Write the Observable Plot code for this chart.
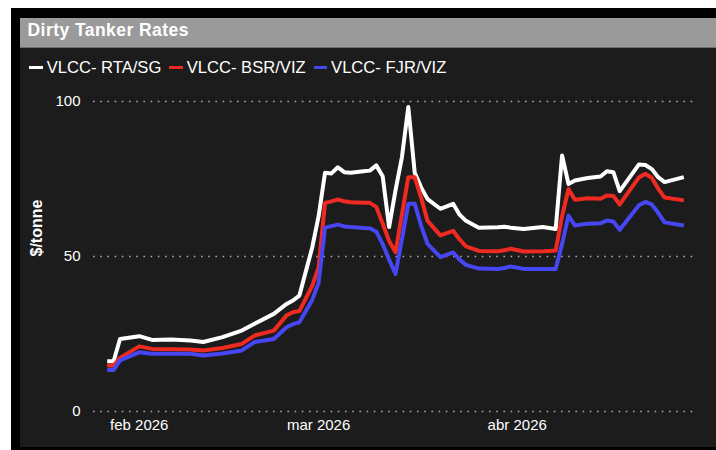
<!DOCTYPE html>
<html>
<head>
<meta charset="utf-8">
<script src="https://cdn.jsdelivr.net/npm/d3@7"></script>
<script src="https://cdn.jsdelivr.net/npm/@observablehq/plot@0.6"></script>
<style>
html,body{margin:0;padding:0;background:#fff;width:716px;height:450px;overflow:hidden;font-family:"Liberation Sans",Arial,sans-serif;}
#frame{position:absolute;left:11px;top:8px;width:705px;height:442px;background:#000;}
#panel{position:absolute;left:20px;top:18px;width:696px;height:429px;background:#1c1c1c;overflow:hidden;}
#titlebar{position:absolute;left:0;top:0;width:696px;height:29px;background:#9a9a9a;border-bottom:1px solid #6e6e6e;}
#title{position:absolute;left:7.5px;top:1.5px;line-height:20px;color:#fff;font-weight:bold;font-size:17.5px;letter-spacing:0.45px;white-space:nowrap;}
#legend{position:absolute;left:9.3px;top:40px;line-height:20px;color:#fff;font-size:16.6px;white-space:nowrap;}
.item{display:inline-block;margin-right:8px;}
.sw{display:inline-block;width:13.4px;height:3px;vertical-align:middle;margin-right:4px;position:relative;top:-1px;}
#chart{position:absolute;left:0;top:67px;}
</style>
</head>
<body>
<div id="frame"></div>
<div id="panel">
  <div id="titlebar"><div id="title">Dirty Tanker Rates</div></div>
  <div id="legend"></div>
  <div id="chart"></div>
</div>
<script>
// Series names and colours
const seriesNames = ["VLCC- RTA/SG", "VLCC- BSR/VIZ", "VLCC- FJR/VIZ"];
const seriesColors = ["#ffffff", "#ef2a22", "#4646f2"];

// Dates of observations
const dates = [
  "2026-01-27","2026-01-28","2026-01-29","2026-02-01","2026-02-03","2026-02-06","2026-02-09","2026-02-11",
  "2026-02-14","2026-02-17","2026-02-19","2026-02-22","2026-02-24","2026-02-25","2026-02-26","2026-02-28",
  "2026-03-01","2026-03-02","2026-03-03","2026-03-04","2026-03-05","2026-03-06","2026-03-08","2026-03-09",
  "2026-03-10","2026-03-11","2026-03-12","2026-03-13","2026-03-14","2026-03-15","2026-03-16","2026-03-17",
  "2026-03-18","2026-03-20","2026-03-22","2026-03-23","2026-03-24","2026-03-26","2026-03-29","2026-03-30",
  "2026-03-31","2026-04-02","2026-04-05","2026-04-06","2026-04-07","2026-04-08","2026-04-09","2026-04-10",
  "2026-04-12","2026-04-14","2026-04-15","2026-04-16","2026-04-17","2026-04-20","2026-04-21","2026-04-22",
  "2026-04-23","2026-04-24","2026-04-27"
];

// VLCC- RTA/SG ($/tonne)
const rtaSg = [
  16.2,16.2,23.4,24.3,23.1,23.2,22.9,22.4,
  24.0,26.1,28.3,31.5,34.7,35.8,37.4,52.9,
  63.0,77.0,76.8,78.8,77.2,77.0,77.5,77.7,
  79.4,75.9,59.5,71.3,82.0,98.2,77.0,72.3,
  68.5,65.4,67.0,63.5,61.5,59.3,59.4,59.6,
  59.3,58.9,59.5,59.2,58.9,82.6,73.4,74.5,
  75.3,75.8,77.5,77.2,71.1,79.7,79.5,78.2,
  75.6,74.0,75.6
];

// VLCC- BSR/VIZ ($/tonne)
const bsrViz = [
  14.8,14.8,17.3,21.0,20.2,20.1,20.0,19.7,
  20.5,21.8,24.5,26.1,31.0,32.0,32.4,40.5,
  46.5,67.3,67.8,68.4,67.8,67.5,67.3,67.3,
  66.0,60.6,55.0,51.4,63.5,75.6,75.6,69.0,
  61.5,56.8,58.3,55.5,53.3,51.8,51.7,52.0,
  52.5,51.6,51.7,51.8,51.9,63.0,71.8,68.3,
  68.8,68.6,69.7,69.5,66.8,75.5,76.7,75.4,
  71.9,69.0,68.1
];

// VLCC- FJR/VIZ ($/tonne)
const fjrViz = [
  13.4,13.4,16.5,19.1,18.6,18.6,18.6,18.1,
  18.7,19.7,22.4,23.4,27.2,28.2,28.8,36.0,
  41.5,59.3,59.8,60.3,59.7,59.5,59.2,59.1,
  58.0,54.0,49.0,44.4,55.5,67.0,67.0,59.9,
  54.1,49.8,51.3,49.0,47.3,46.1,46.0,46.3,
  46.8,46.0,46.0,46.0,46.0,54.0,63.2,60.0,
  60.6,60.7,61.6,61.3,58.6,66.5,67.6,66.8,
  64.1,61.0,60.0
];

// Axis ticks
const yTicks = [0, 50, 100];
const monthTickDates = ["2026-02-01", "2026-03-01", "2026-04-01"];
const monthTickLabels = ["feb 2026", "mar 2026", "abr 2026"];
const yLabel = "$/tonne";

// Build table
const seriesValues = [rtaSg, bsrViz, fjrViz];
const parsed = dates.map(d => new Date(d + "T00:00:00Z"));
const table = [];
seriesNames.forEach((name, s) => {
  seriesValues[s].forEach((v, i) => table.push({date: parsed[i], value: v, series: name}));
});
const monthTicks = monthTickDates.map(d => new Date(d + "T00:00:00Z"));

// Legend
const legend = document.getElementById("legend");
seriesNames.forEach((name, i) => {
  const it = document.createElement("span");
  it.className = "item";
  const sw = document.createElement("span");
  sw.className = "sw";
  sw.style.background = seriesColors[i];
  it.appendChild(sw);
  it.appendChild(document.createTextNode(name));
  legend.appendChild(it);
});

const chart = Plot.plot({
  width: 696,
  height: 360,
  marginLeft: 86.7,
  marginRight: 32.7,
  marginTop: 16,
  marginBottom: 34,
  style: {background: "transparent", color: "#ffffff", fontFamily: "'Liberation Sans', Arial, sans-serif", fontSize: "15px"},
  x: {type: "utc", domain: [parsed[0], parsed[parsed.length - 1]]},
  y: {domain: [0, 100]},
  color: {domain: seriesNames, range: seriesColors},
  marks: [
    Plot.ruleY(yTicks, {stroke: "#a8a8a8", strokeWidth: 1.6, strokeDasharray: "1.6,5.6", insetLeft: -13.7, insetRight: -13.7}),
    Plot.axisY(yTicks, {tickSize: 0, tickPadding: 26.7, label: null, fill: "#ffffff"}),
    Plot.axisX(monthTicks, {tickSize: 0, tickPadding: 8, label: null, fill: "#ffffff",
      tickFormat: d => monthTickLabels[monthTicks.findIndex(t => +t === +d)]}),
    Plot.line(table, {x: "date", y: "value", stroke: "series", z: "series", strokeWidth: 4, strokeLinejoin: "round", strokeLinecap: "butt"}),
    Plot.text([yLabel], {frameAnchor: "left", rotate: -90, dx: -70.7, fontWeight: "bold", fontSize: 16, fill: "#ffffff"})
  ]
});
document.getElementById("chart").appendChild(chart);
</script>
</body>
</html>
